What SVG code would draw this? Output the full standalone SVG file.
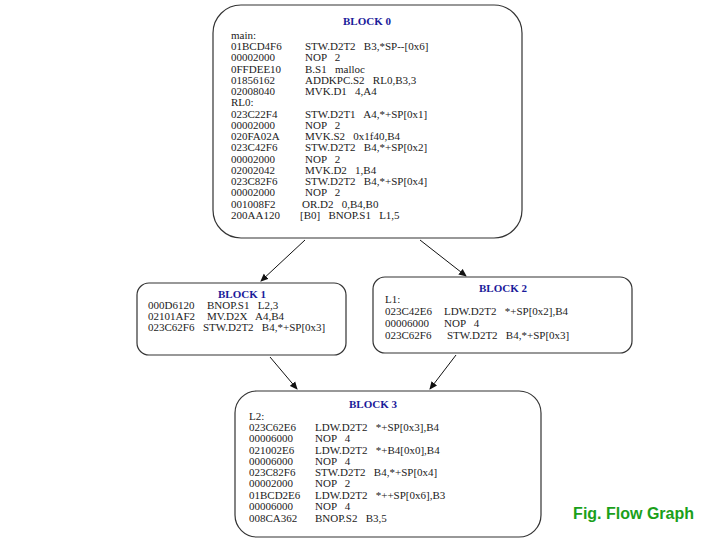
<svg xmlns="http://www.w3.org/2000/svg" width="720" height="540" viewBox="0 0 720 540">
<defs>
<style>
.box{fill:#fff;stroke:#333;stroke-width:1.2}
text{font-family:"Liberation Serif",serif;font-size:11px;fill:#222;white-space:pre}
.t{font-weight:bold;fill:#1a1a9a;text-anchor:middle}
.e{stroke:#111;stroke-width:1;fill:none;marker-end:url(#a)}
.cap{font-family:"Liberation Sans",sans-serif;font-weight:bold;font-size:16px;fill:#1aa01a}
</style>
<marker id="a" markerWidth="8" markerHeight="8" refX="7" refY="4" orient="auto" markerUnits="userSpaceOnUse"><path d="M0,0.5 L8,4 L0,7.5 z" fill="#111"/></marker>
</defs>
<rect width="720" height="540" fill="#fff"/>
<g id="connectors">
<line class="e" x1="305" y1="240" x2="261" y2="281"/>
<line class="e" x1="420" y1="240" x2="466" y2="276"/>
<line class="e" x1="270" y1="357" x2="297" y2="389"/>
<line class="e" x1="456" y1="355" x2="430" y2="389"/>
</g>
<g id="block0">
<rect class="box" x="213" y="5" width="309" height="233" rx="28"/>
<text class="t" x="367" y="25">BLOCK 0</text>
<text x="231" y="39">main:</text>
<text x="231" y="50">01BCD4F6<tspan x="305">STW.D2T2   B3,*SP--[0x6]</tspan></text>
<text x="231" y="61">00002000<tspan x="305">NOP   2</tspan></text>
<text x="231" y="73">0FFDEE10<tspan x="305">B.S1   malloc</tspan></text>
<text x="231" y="84">01856162<tspan x="305">ADDKPC.S2   RL0,B3,3</tspan></text>
<text x="231" y="95">02008040<tspan x="305">MVK.D1   4,A4</tspan></text>
<text x="231" y="106">RL0:</text>
<text x="231" y="118">023C22F4<tspan x="305">STW.D2T1   A4,*+SP[0x1]</tspan></text>
<text x="231" y="129">00002000<tspan x="305">NOP   2</tspan></text>
<text x="231" y="140">020FA02A<tspan x="305">MVK.S2   0x1f40,B4</tspan></text>
<text x="231" y="151">023C42F6<tspan x="305">STW.D2T2   B4,*+SP[0x2]</tspan></text>
<text x="231" y="163">00002000<tspan x="305">NOP   2</tspan></text>
<text x="231" y="174">02002042<tspan x="305">MVK.D2   1,B4</tspan></text>
<text x="231" y="185">023C82F6<tspan x="305">STW.D2T2   B4,*+SP[0x4]</tspan></text>
<text x="231" y="196">00002000<tspan x="305">NOP   2</tspan></text>
<text x="231" y="208">001008F2<tspan x="302">OR.D2   0,B4,B0</tspan></text>
<text x="231" y="219">200AA120<tspan x="300">[B0]   BNOP.S1   L1,5</tspan></text>
</g>
<g id="block1">
<rect class="box" x="137" y="283" width="209" height="72" rx="12"/>
<text class="t" x="242" y="298">BLOCK 1</text>
<text x="148" y="309">000D6120<tspan x="207">BNOP.S1   L2,3</tspan></text>
<text x="148" y="320">02101AF2<tspan x="207">MV.D2X   A4,B4</tspan></text>
<text x="148" y="331">023C62F6<tspan x="203">STW.D2T2   B4,*+SP[0x3]</tspan></text>
</g>
<g id="block2">
<rect class="box" x="373" y="277" width="259" height="76" rx="12"/>
<text class="t" x="503" y="292">BLOCK 2</text>
<text x="385" y="303">L1:</text>
<text x="385" y="315">023C42E6<tspan x="444">LDW.D2T2   *+SP[0x2],B4</tspan></text>
<text x="385" y="327">00006000<tspan x="444">NOP   4</tspan></text>
<text x="385" y="339">023C62F6<tspan x="447">STW.D2T2   B4,*+SP[0x3]</tspan></text>
</g>
<g id="block3">
<rect class="box" x="235" y="391" width="306" height="146" rx="22"/>
<text class="t" x="373" y="408">BLOCK 3</text>
<text x="249" y="420">L2:</text>
<text x="249" y="431">023C62E6<tspan x="315">LDW.D2T2   *+SP[0x3],B4</tspan></text>
<text x="249" y="442">00006000<tspan x="315">NOP   4</tspan></text>
<text x="249" y="454">021002E6<tspan x="315">LDW.D2T2   *+B4[0x0],B4</tspan></text>
<text x="249" y="465">00006000<tspan x="315">NOP   4</tspan></text>
<text x="249" y="476">023C82F6<tspan x="315">STW.D2T2   B4,*+SP[0x4]</tspan></text>
<text x="249" y="487">00002000<tspan x="315">NOP   2</tspan></text>
<text x="249" y="499">01BCD2E6<tspan x="315">LDW.D2T2   *++SP[0x6],B3</tspan></text>
<text x="249" y="510">00006000<tspan x="315">NOP   4</tspan></text>
<text x="249" y="522">008CA362<tspan x="315">BNOP.S2   B3,5</tspan></text>
</g>
<text class="cap" x="694" y="519" text-anchor="end">Fig. Flow Graph</text>
</svg>
